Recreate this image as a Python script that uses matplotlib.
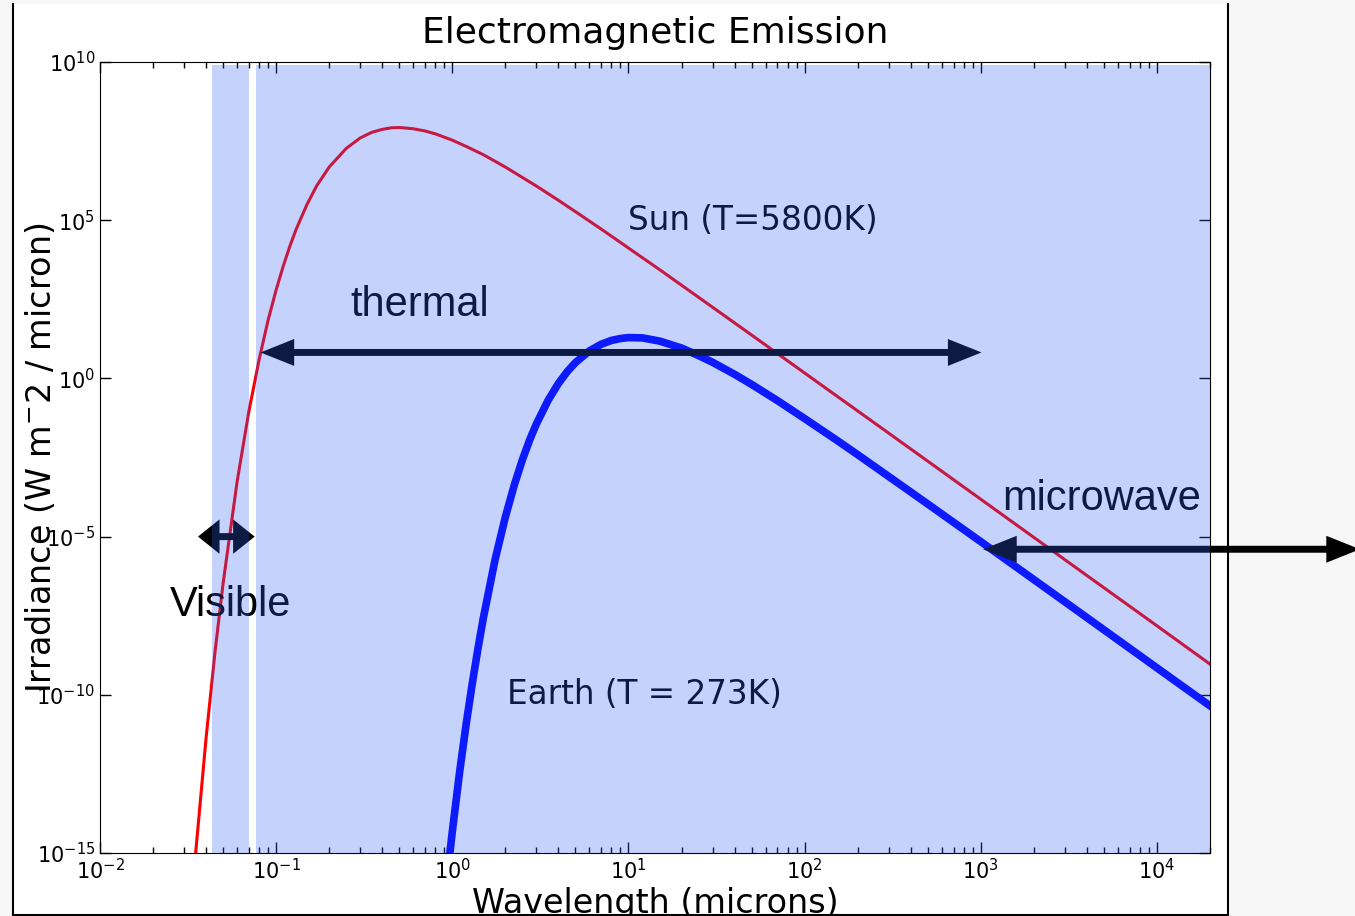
import numpy as np
import matplotlib
matplotlib.use("Agg")
import matplotlib.pyplot as plt
from matplotlib.patches import Rectangle
from matplotlib.lines import Line2D
from matplotlib.ticker import FixedLocator, NullLocator, LogFormatterSciNotation

# values (wavelength in microns, log10 of irradiance)
sun_wavelength = [0.034, 0.035, 0.04, 0.045, 0.05, 0.06, 0.07, 0.08, 0.09, 0.1, 0.11, 0.12,
                  0.13, 0.15, 0.17, 0.2, 0.25, 0.3, 0.35, 0.4, 0.45, 0.5, 0.6, 0.7, 0.8, 1,
                  1.2, 1.5, 2, 3, 4, 5, 7, 10, 15, 30, 50, 100, 300, 1000, 3000, 10000, 20000]
sun_log_irr = [-15.77, -14.93, -11.37, -8.63, -6.47, -3.27, -1.04, 0.59, 1.84, 2.80, 3.57,
               4.20, 4.72, 5.51, 6.09, 6.68, 7.27, 7.60, 7.78, 7.87, 7.92, 7.93, 7.89, 7.82,
               7.73, 7.53, 7.33, 7.07, 6.68, 6.08, 5.63, 5.27, 4.72, 4.12, 3.44, 2.25, 1.37,
               0.17, -1.73, -3.82, -5.73, -7.82, -9.03]

earth_wavelength = [0.95, 1, 1.1, 1.2, 1.3, 1.4, 1.5, 1.75, 2, 2.25, 2.5, 2.75, 3, 3.5, 4,
                    4.5, 5, 6, 7, 8, 9, 10, 12, 15, 20, 25, 30, 40, 50, 70, 100, 150, 200,
                    300, 500, 1000, 3000, 10000, 20000]
earth_log_irr = [-15.41, -14.32, -12.44, -10.90, -9.62, -8.52, -7.57, -5.72, -4.38, -3.36,
                 -2.57, -1.94, -1.44, -0.69, -0.16, 0.22, 0.50, 0.87, 1.08, 1.20, 1.26,
                 1.29, 1.28, 1.18, 0.96, 0.72, 0.51, 0.13, -0.19, -0.70, -1.27, -1.93,
                 -2.41, -3.10, -3.97, -5.16, -7.06, -9.15, -10.35]

# shaded wavelength bands
band_edges = [(0.043, 0.070), (0.077, 20000)]

y_ticks = [1e-15, 1e-10, 1e-5, 1e0, 1e5, 1e10]

fig = plt.figure(figsize=(13.55, 9.16), dpi=100, facecolor='#f7f7f7')
W, H = 1355.0, 916.0

# window frame look
fig.patches.append(Rectangle((13 / W, 1 / H), (1228 - 13) / W, (911) / H,
                             transform=fig.transFigure, facecolor='white',
                             edgecolor='none', zorder=-10))
for xs, ys in [([13 / W, 13 / W], [1 / H, 912 / H]),
               ([1228 / W, 1228 / W], [1 / H, 912 / H]),
               ([13 / W, 1228 / W], [1.5 / H, 1.5 / H])]:
    fig.lines.append(Line2D(xs, ys, transform=fig.transFigure, color='black', lw=1.5))

ax = fig.add_axes([100 / W, 1 - 853 / H, 1110 / W, 791 / H])
ax.set_facecolor('white')

sun_irr = np.power(10.0, sun_log_irr)
earth_irr = np.power(10.0, earth_log_irr)

ax.plot(sun_wavelength, sun_irr, color='#ff0000', lw=2.2, zorder=2)
ax.plot(earth_wavelength, earth_irr, color='#0000ff', lw=5.5, zorder=2)

ax.set_xscale('log')
ax.set_yscale('log')
ax.set_xlim(1e-2, 2e4)
ax.set_ylim(1e-15, 1e10)

for lo, hi in band_edges:
    ax.axvspan(lo, hi, ymin=0, ymax=0.996, color='#3260f3', alpha=0.28, lw=0, zorder=10)

# labels on the plot
ax.text(10, 10 ** 4.7, 'Sun (T=5800K)', fontsize=23.5, color='black', ha='left', va='baseline')
ax.text(2.05, 10 ** -10.3, 'Earth (T = 273K)', fontsize=23.5, color='black', ha='left', va='baseline')
ax.text(0.263, 10 ** 1.96, 'thermal', fontsize=30, family='Liberation Sans', ha='left', va='baseline')
ax.text(0.025, 10 ** -7.52, 'Visible', fontsize=30, family='Liberation Sans', ha='left', va='baseline',
        clip_on=False)
ax.text(1325, 10 ** -4.17, 'microwave', fontsize=30, family='Liberation Sans', ha='left', va='baseline')

arrow = dict(arrowstyle='<|-|>,head_length=0.75,head_width=0.3', lw=5, color='black',
             shrinkA=0, shrinkB=0, mutation_scale=20, joinstyle='miter', capstyle='butt')
short_arrow = dict(arrowstyle='<|-|>,head_length=0.45,head_width=0.36', lw=5, color='black',
                   shrinkA=0, shrinkB=0, mutation_scale=20, joinstyle='miter', capstyle='butt')
ax.annotate('', xy=(1010, 10 ** 0.82), xytext=(0.0815, 10 ** 0.82), arrowprops=arrow,
            annotation_clip=False)
ax.annotate('', xy=(0.0755, 1e-5), xytext=(0.036, 1e-5), arrowprops=short_arrow,
            annotation_clip=False)
ax.annotate('', xy=(1.42e5, 10 ** -5.4), xytext=(1030, 10 ** -5.4), arrowprops=arrow,
            annotation_clip=False)

ax.set_title('Electromagnetic Emission', fontsize=26, pad=14)
ax.set_xlabel('Wavelength (microns)', fontsize=24, labelpad=3)
ax.set_ylabel('Irradiance (W m$^{-}$2 / micron)', fontsize=24)
ax.yaxis.set_label_coords(-0.038, 0.5)

ax.yaxis.set_major_locator(FixedLocator(y_ticks))
ax.yaxis.set_major_formatter(LogFormatterSciNotation())
ax.yaxis.set_minor_locator(NullLocator())
ax.tick_params(which='both', direction='in', top=True, right=True, labelsize=15)
ax.tick_params(which='major', length=8, width=1)
ax.tick_params(which='minor', length=4, width=1)

fig.savefig('out.png', dpi=100, facecolor=fig.get_facecolor())
